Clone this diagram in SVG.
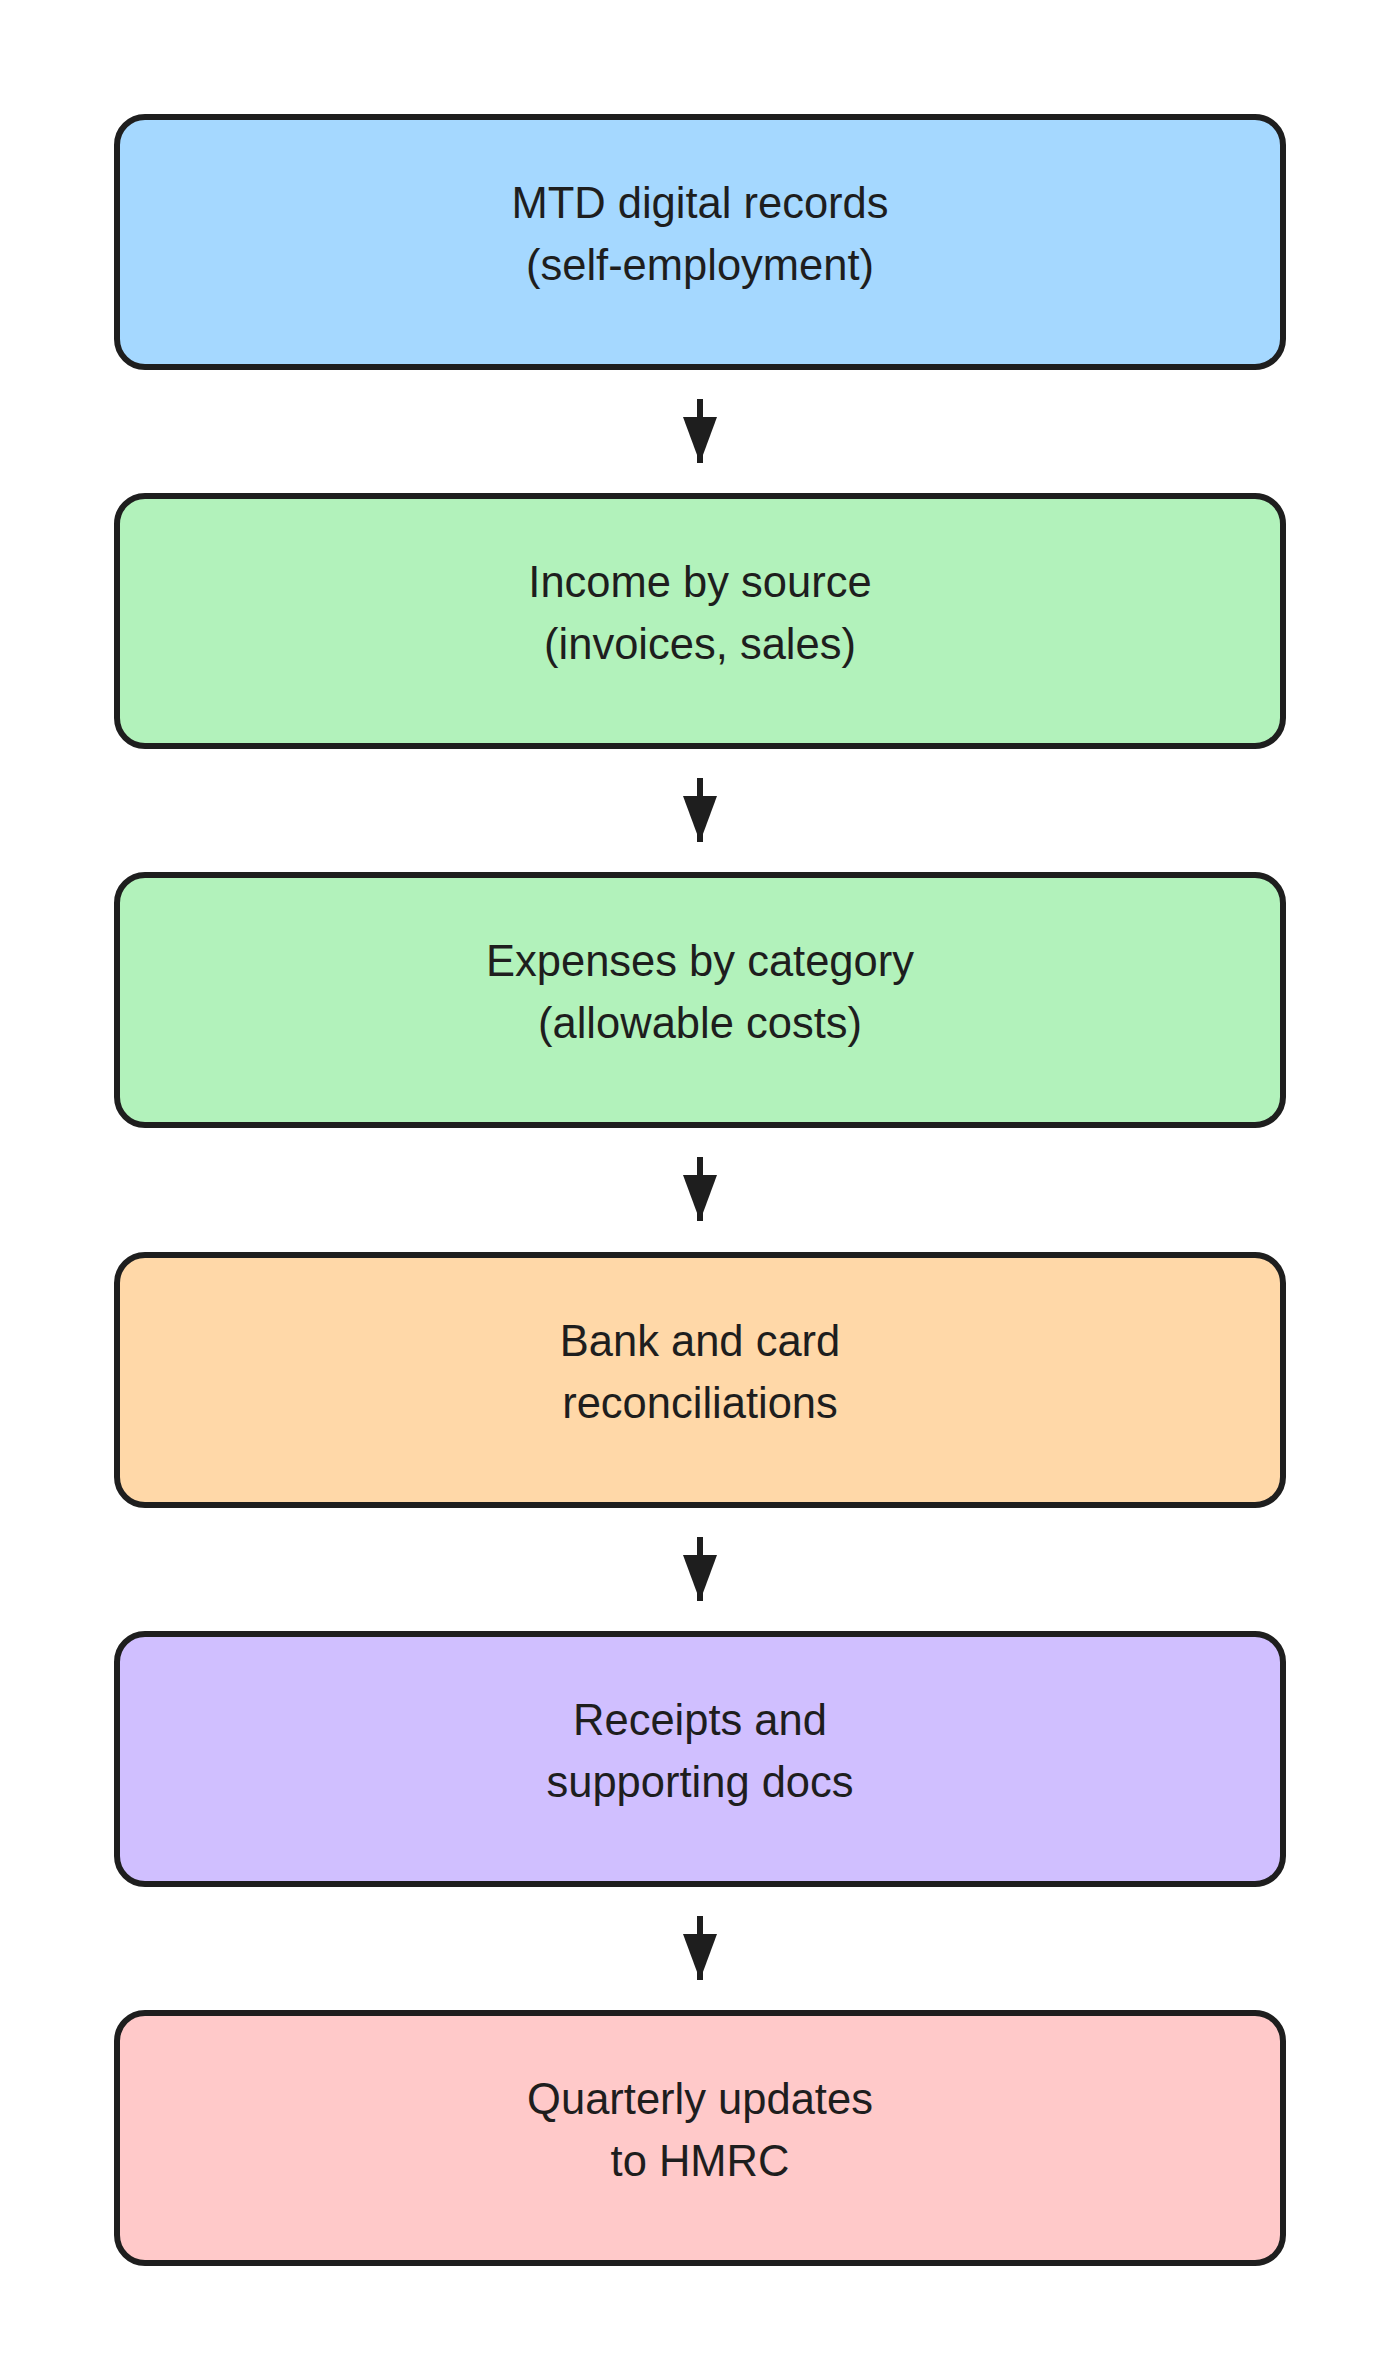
<svg xmlns="http://www.w3.org/2000/svg" width="1400" height="2380" viewBox="0 0 1400 2380">
<style>
.box{stroke:#1e1e1e;stroke-width:6}
.lbl{font-family:"Liberation Sans",Arial,sans-serif;font-size:43.5px;fill:#1e1e1e;text-anchor:middle}
.conn line{stroke:#1e1e1e;stroke-width:6}
.conn polygon{fill:#1e1e1e}
</style>
<rect width="1400" height="2380" fill="#ffffff"/>
<g id="n1"><rect class="box" x="117" y="117" width="1166" height="250" rx="28" fill="#a5d8ff"/>
<text class="lbl" x="700" y="218">MTD digital records</text><text class="lbl" x="700" y="280">(self-employment)</text></g>
<g id="n2"><rect class="box" x="117" y="496" width="1166" height="250" rx="28" fill="#b2f2bb"/>
<text class="lbl" x="700" y="597">Income by source</text><text class="lbl" x="700" y="659">(invoices, sales)</text></g>
<g id="n3"><rect class="box" x="117" y="875" width="1166" height="250" rx="28" fill="#b2f2bb"/>
<text class="lbl" x="700" y="976">Expenses by category</text><text class="lbl" x="700" y="1038">(allowable costs)</text></g>
<g id="n4"><rect class="box" x="117" y="1255" width="1166" height="250" rx="28" fill="#ffd8a8"/>
<text class="lbl" x="700" y="1356">Bank and card</text><text class="lbl" x="700" y="1418">reconciliations</text></g>
<g id="n5"><rect class="box" x="117" y="1634" width="1166" height="250" rx="28" fill="#d0bfff"/>
<text class="lbl" x="700" y="1735">Receipts and</text><text class="lbl" x="700" y="1797">supporting docs</text></g>
<g id="n6"><rect class="box" x="117" y="2013" width="1166" height="250" rx="28" fill="#ffc9c9"/>
<text class="lbl" x="700" y="2114">Quarterly updates</text><text class="lbl" x="700" y="2176">to HMRC</text></g>
<g id="connectors" class="conn">
<g><line x1="700" y1="399" x2="700" y2="463"/><polygon points="683,417 717,417 700,463"/></g>
<g><line x1="700" y1="778" x2="700" y2="842"/><polygon points="683,796 717,796 700,842"/></g>
<g><line x1="700" y1="1157" x2="700" y2="1221"/><polygon points="683,1175 717,1175 700,1221"/></g>
<g><line x1="700" y1="1537" x2="700" y2="1601"/><polygon points="683,1555 717,1555 700,1601"/></g>
<g><line x1="700" y1="1916" x2="700" y2="1980"/><polygon points="683,1934 717,1934 700,1980"/></g>
</g>
</svg>
